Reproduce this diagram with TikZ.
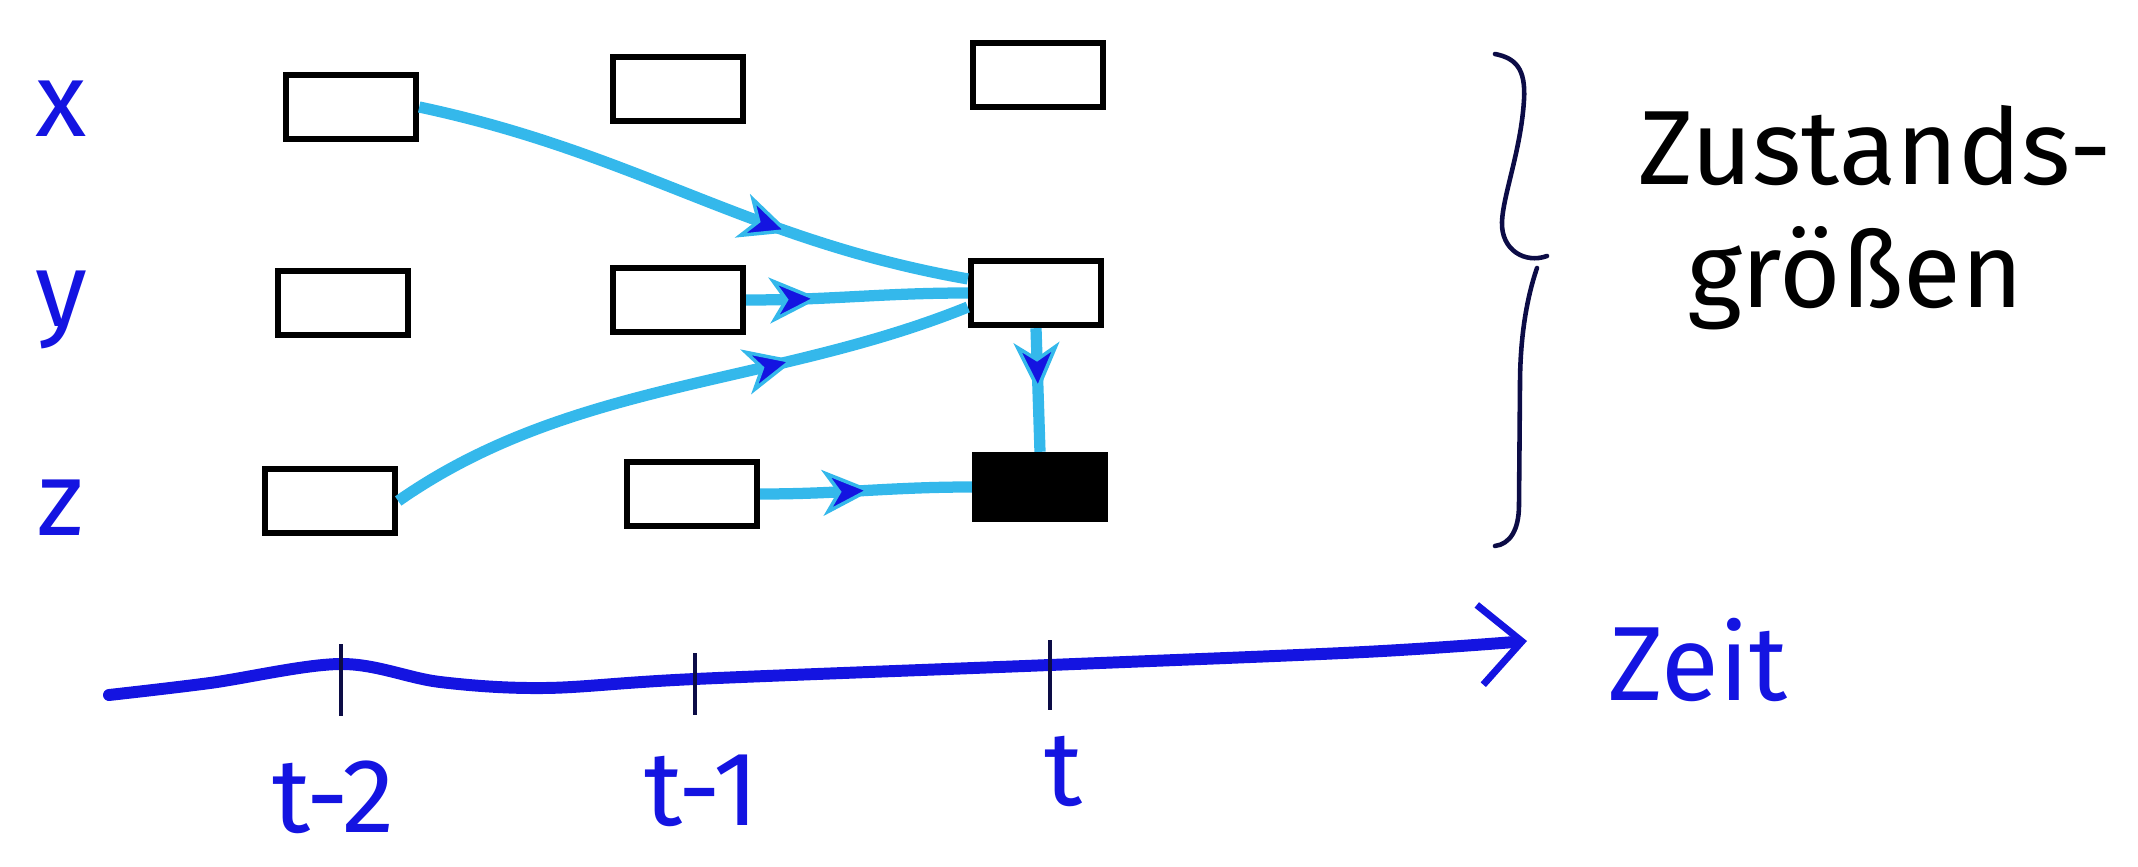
\documentclass[tikz,border=0pt]{standalone}
\usepackage{fontspec}
\setmainfont{Fira Sans}
\usetikzlibrary{arrows.meta,decorations.markings}
\definecolor{cyanline}{RGB}{52,184,235}
\definecolor{penblue}{RGB}{20,20,225}
\definecolor{navy}{RGB}{12,12,70}
\begin{document}
\begin{tikzpicture}[x=0.01cm,y=-0.01cm,
  box/.style={draw=black, line width=1.8pt, minimum width=1.3cm, minimum height=0.64cm, inner sep=0pt},
  filledbox/.style={box, fill=black},
  flow/.style={draw=cyanline, line width=3.2pt, postaction={decorate},
    decoration={markings, mark=at position #1 with {\arrow{Stealth[length=0.5cm, width=0.46cm, inset=0.15cm, color=cyanline, fill=penblue, line width=1pt]}}}},
  flow/.default=0.5,
  lab/.style={text=penblue, font=\fontsize{30}{36}\selectfont, inner sep=0pt},
  blacktext/.style={text=black, font=\fontsize{30}{36}\selectfont, inner sep=0pt},
  axisline/.style={draw=penblue, line width=3.4pt, line cap=round},
  tickline/.style={draw=navy, line width=1.2pt},
  braceline/.style={draw=navy, line width=1.3pt, line cap=round}
]
\useasboundingbox (0,0) rectangle (2138,867);

% row labels
\node[lab] (lx) at (61,109) {x};
\node[lab] (ly) at (61,310) {y};
\node[lab] (lz) at (61,508) {z};

% boxes
\node[box] (x2) at (351,107) {};
\node[box] (x1) at (678,89) {};
\node[box] (x0) at (1038,75) {};
\node[box] (y2) at (343,303) {};
\node[box] (y1) at (678,300) {};
\node[box] (y0) at (1036,293) {};
\node[box] (z2) at (330,501) {};
\node[box] (z1) at (692,494) {};
\node[filledbox] (z0) at (1040,487) {};

% influence arrows
\path[flow=0.68] (x2.east) to[out=-12,in=170] ([yshift=4pt]y0.west);
\path[flow=0.33] (y1.east) to[out=0,in=180] (y0.west);
\path[flow=0.7] (z2.east) to[out=35,in=-158, looseness=0.9] ([yshift=-4pt]y0.west);
\path[flow=0.53] (z1.east) to[out=0,in=180] (z0.west);
\path[flow=0.52] (y0.south) -- (z0.north);

% time axis
\draw[axisline, -{Straight Barb[length=0.42cm, width=0.8cm, line width=2pt]}]
  plot[smooth, tension=0.55] coordinates {(109,695) (210,683) (341,664) (440,682) (545,688) (695,679) (1050,665) (1364,652) (1527,641)};
\coordinate (tk2) at (341,664);
\coordinate (tk1) at (695,679);
\coordinate (tk0) at (1050,665);
\draw[tickline] (tk2) ++(0,-20) -- ++(0,72);
\draw[tickline] (tk1) ++(0,-26) -- ++(0,62);
\draw[tickline] (tk0) ++(0,-25) -- ++(0,70);

\node[lab, anchor=base] (t2) at (334,832) {t-2};
\node[lab, anchor=base] (t1) at (702,825) {t-1};
\node[lab, anchor=base] (t0) at (1064,805) {t};
\node[lab] (zeit) at (1698,660) {Zeit};

% brace
\draw[braceline] (1495,54) .. controls (1515,58) and (1526,68) .. (1524,100)
  .. controls (1521,150) and (1503,195) .. (1502,222)
  .. controls (1501,250) and (1525,264) .. (1547,256);
\draw[braceline] (1537,268) .. controls (1526,300) and (1520,340) .. (1520,385)
  -- (1519,505) .. controls (1519,530) and (1510,544) .. (1495,546);

\node[blacktext, anchor=base] (zu1) at (1875,185) {Zustands-};
\node[blacktext, anchor=base] (zu2) at (1855,308) {größen};
\end{tikzpicture}
\end{document}
